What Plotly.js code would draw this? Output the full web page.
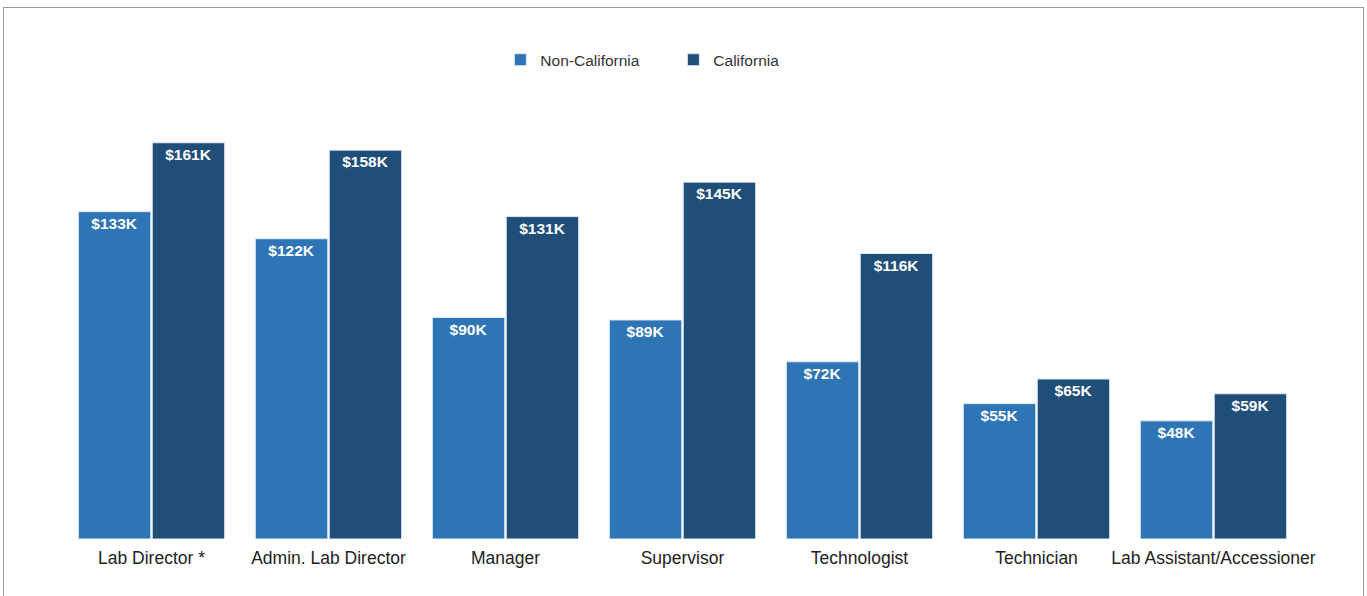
<!DOCTYPE html>
<html>
<head>
<meta charset="utf-8">
<script src="https://cdn.plot.ly/plotly-3.0.1.min.js"></script>
<style>
html,body{margin:0;padding:0;background:#fff;overflow:hidden;}
#chart{width:1367px;height:596px;}
#frame{position:absolute;left:3px;top:7px;width:1359px;height:620px;border:1.5px solid #9a9a9a;pointer-events:none;}
</style>
</head>
<body>
<div id="chart"></div>
<div id="frame"></div>
<script>
const categories = ["Lab Director *", "Admin. Lab Director", "Manager", "Supervisor", "Technologist", "Technician", "Lab Assistant/Accessioner"];
const nonCalifornia = [133, 122, 90, 89, 72, 55, 48];
const california = [161, 158, 131, 145, 116, 65, 59];
const seriesNames = ["Non-California", "California"];

const common = {
  type: 'bar',
  x: categories,
  texttemplate: '$%{y}K',
  textposition: 'inside',
  insidetextanchor: 'end',
  textangle: 0,
  textfont: {family: 'Liberation Sans, Arial, sans-serif', size: 15.5, color: '#ffffff', weight: 'bold'},
  hoverinfo: 'none',
  cliponaxis: false
};

const data = [
  Object.assign({}, common, {y: nonCalifornia, name: seriesNames[0], marker: {color: '#2E75B6', line: {color: '#dfe8f2', width: 1}}}),
  Object.assign({}, common, {y: california, name: seriesNames[1], marker: {color: '#1F4E79', line: {color: '#dfe8f2', width: 1}}})
];

const layout = {
  width: 1367, height: 596,
  margin: {l: 63, r: 65, t: 96, b: 57},
  paper_bgcolor: '#ffffff', plot_bgcolor: '#ffffff',
  barmode: 'group',
  bargap: 0.165,
  bargroupgap: 0.02,
  font: {family: 'Liberation Sans, Arial, sans-serif', color: '#222'},
  showlegend: true,
  legend: {orientation: 'h', x: 0.353, xanchor: 'left', y: 1.081, yanchor: 'middle',
           font: {size: 15.5, color: '#333'}, itemwidth: 30, entrywidth: 128, traceorder: 'normal'},
  xaxis: {showline: false, ticks: '', showgrid: false, zeroline: false,
          tickfont: {size: 17.5, color: '#222'}, ticklabelstandoff: 6},
  yaxis: {range: [0, 180], visible: false, showgrid: false, zeroline: false}
};

Plotly.newPlot('chart', data, layout, {displayModeBar: false, staticPlot: true});
</script>
</body>
</html>
